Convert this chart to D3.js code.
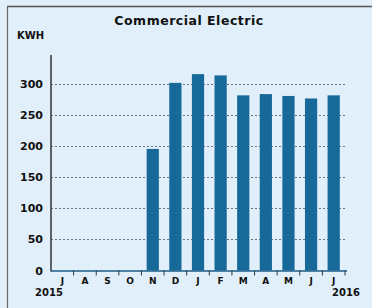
<!DOCTYPE html>
<html><head><meta charset="utf-8">
<script src="https://cdn.jsdelivr.net/npm/d3@7"></script>
<style>
html,body{margin:0;padding:0;background:#e0eff9;}
svg{display:block;}
text{font-family:"DejaVu Sans",sans-serif;font-weight:bold;fill:#111;}
</style></head>
<body>
<script>
const months = ["J","A","S","O","N","D","J","F","M","A","M","J","J"];
const kwh = [0,0,0,0,195,301,315,313,281,283,280,276,281];
const yTicks = [0,50,100,150,200,250,300];
const title = "Commercial Electric";
const yLabel = "KWH";
const startYear = "2015", endYear = "2016";

const W = 372, H = 308;
const svg = d3.select("body").append("svg").attr("width", W).attr("height", H);
svg.append("rect").attr("width", W).attr("height", H).attr("fill", "#e0eff9");
// frame
svg.append("line").attr("x1", 7).attr("x2", W).attr("y1", 6.5).attr("y2", 6.5).attr("stroke", "#555").attr("stroke-width", 1.5);
svg.append("line").attr("x1", 7.5).attr("x2", 7.5).attr("y1", 6).attr("y2", H).attr("stroke", "#666").attr("stroke-width", 1.2);

const x0 = 51, x1 = 345, yTop = 55, yBase = 270.5;
const x = d3.scaleBand().domain(d3.range(months.length)).range([x0, x1]).paddingInner(0.46).paddingOuter(0.23);
const y = d3.scaleLinear().domain([0, 300]).range([yBase, 83.5]);

// grid
svg.append("g").selectAll("line").data(yTicks.filter(d => d > 0)).join("line")
  .attr("x1", x0).attr("x2", x1).attr("y1", d => Math.round(y(d)) + 0.5).attr("y2", d => Math.round(y(d)) + 0.5)
  .attr("stroke", "#6a7680").attr("stroke-width", 1).attr("stroke-dasharray", "2,2");

// bars
svg.append("g").selectAll("rect").data(kwh).join("rect")
  .attr("x", (d, i) => x(i)).attr("width", x.bandwidth())
  .attr("y", d => y(d)).attr("height", d => yBase - y(d))
  .attr("fill", "#17699a");

// y axis
svg.append("line").attr("x1", x0).attr("x2", x0).attr("y1", yTop).attr("y2", yBase + 1).attr("stroke", "#333").attr("stroke-width", 1.5);
svg.append("g").selectAll("text").data(yTicks).join("text")
  .attr("x", 43).attr("y", d => y(d) + 4).attr("text-anchor", "end").attr("font-size", 11).text(d => d);

// x axis
svg.append("line").attr("x1", x0).attr("x2", x1 + 2).attr("y1", yBase + 0.5).attr("y2", yBase + 0.5).attr("stroke", "#1d5e8a").attr("stroke-width", 1.5);
const bounds = d3.range(months.length + 1).map(i => x0 + i * (x1 - x0) / months.length);
svg.append("g").selectAll("line").data(bounds.slice(1)).join("line")
  .attr("x1", d => d).attr("x2", d => d).attr("y1", yBase).attr("y2", yBase + 5)
  .attr("stroke", "#333").attr("stroke-width", 1);
svg.append("g").selectAll("text").data(months).join("text")
  .attr("x", (d, i) => x(i) + x.bandwidth() / 2).attr("y", 284).attr("text-anchor", "middle")
  .attr("font-size", 9).text(d => d);
svg.append("text").attr("x", 49).attr("y", 296).attr("text-anchor", "middle").attr("font-size", 10).text(startYear);
svg.append("text").attr("x", 346).attr("y", 296).attr("text-anchor", "middle").attr("font-size", 10).text(endYear);

// title & label
svg.append("text").attr("x", 189).attr("y", 24.5).attr("text-anchor", "middle").attr("font-size", 12.5)
  .attr("letter-spacing", 0.5).text(title);
svg.append("text").attr("x", 17).attr("y", 39).attr("font-size", 10).text(yLabel);
</script>
</body></html>
